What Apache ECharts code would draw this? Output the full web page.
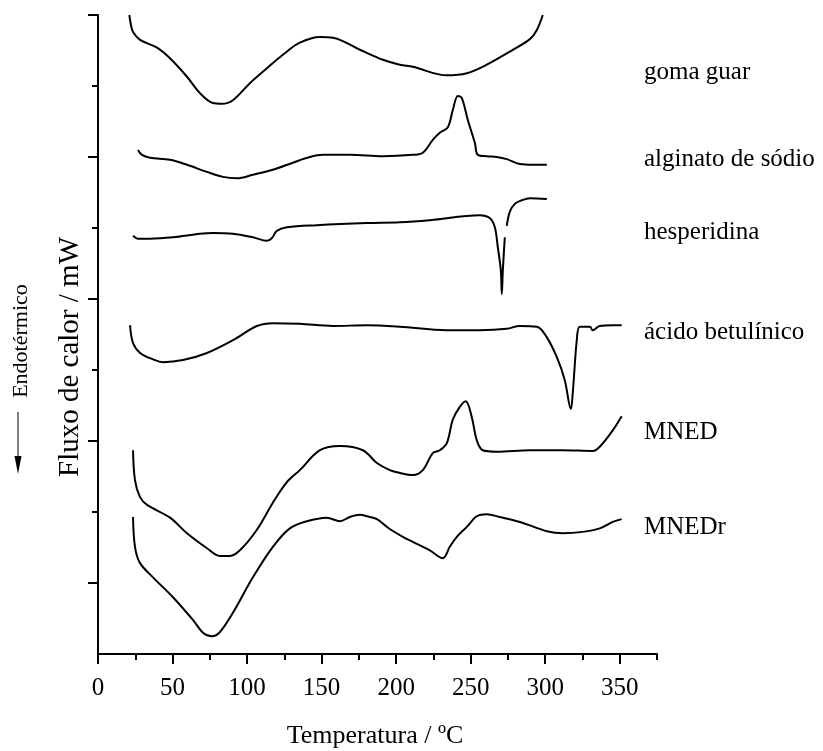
<!DOCTYPE html>
<html><head><meta charset="utf-8">
<script src="https://cdn.jsdelivr.net/npm/echarts@6/dist/echarts.min.js"></script>
<style>html,body{margin:0;padding:0;background:#fff}#c{width:823px;height:751px}</style>
</head><body><div id="c"></div>
<script>
// Temperature (°C) vs. heat flow (arbitrary offset units)
const gomaGuar = [[21,9.0],[22.1,8.86],[23.5,8.76],[28.2,8.65],[39.6,8.54],[48.3,8.39],[59.7,8.13],[68.4,7.90],[77.1,7.76],[83.1,7.75],[90.5,7.80],[101.9,8.04],[113.3,8.25],[124.0,8.44],[135.4,8.61],[148.9,8.69],[157.6,8.68],[175.7,8.51],[191.1,8.37],[202.5,8.30],[211.2,8.27],[234.0,8.15],[247.4,8.18],[260.8,8.30],[278.3,8.51],[289.7,8.66],[294.4,8.79],[298.4,9.0]];
const alginato = [[26.8,7.10],[29.5,7.03],[34.9,6.99],[48.3,6.96],[59.7,6.89],[73.1,6.79],[83.8,6.72],[93.2,6.70],[103.9,6.75],[117.3,6.82],[130.7,6.92],[142.1,7.00],[150.9,7.03],[169.0,7.03],[191.1,7.01],[211.2,7.03],[217.9,7.06],[224.6,7.24],[229.3,7.34],[234.7,7.42],[238.0,7.66],[241.4,7.86],[244.1,7.83],[248.1,7.52],[252.8,7.20],[254.8,7.03],[260.8,7.01],[267.5,7.00],[274.2,6.97],[283.0,6.90],[291.7,6.89],[301.1,6.89]];
const hesperidina = [[23.5,5.89],[26.8,5.85],[34.9,5.85],[50.3,5.87],[68.4,5.92],[77.1,5.93],[90.5,5.92],[103.9,5.87],[113.3,5.82],[116.7,5.86],[120.0,5.96],[126.7,6.01],[146.8,6.04],[180.4,6.07],[202.5,6.08],[222.6,6.11],[256.1,6.18],[262.8,6.14],[266.2,6.01],[268.2,5.73],[270.2,5.41],[270.9,5.07],[271.6,5.41],[272.9,5.87],[273.5,null],[274.2,6.03],[276.3,6.23],[279.6,6.34],[284.3,6.39],[289.7,6.42],[301.1,6.41]];
const betulinico = [[21.5,4.63],[23.5,4.38],[28.2,4.24],[36.9,4.15],[43.6,4.11],[57.0,4.14],[73.1,4.24],[90.5,4.42],[106.6,4.62],[117.3,4.66],[135.4,4.65],[157.6,4.62],[180.4,4.63],[202.5,4.61],[234.0,4.56],[256.1,4.56],[274.2,4.58],[283.0,4.62],[294.4,4.61],[301.1,4.46],[307.8,4.18],[313.1,3.86],[317.2,3.45],[318.5,3.68],[321.2,4.42],[323.2,4.61],[329.9,4.61],[331.9,4.56],[336.6,4.62],[345.3,4.63],[351.3,4.63]];
const mned = [[23.5,2.87],[24.8,2.45],[28.2,2.21],[32.9,2.10],[48.3,1.92],[59.7,1.70],[73.1,1.49],[81.8,1.38],[88.5,1.38],[95.2,1.46],[106.6,1.75],[117.3,2.13],[126.7,2.42],[135.4,2.59],[148.9,2.87],[162.3,2.93],[177.7,2.87],[187.1,2.69],[195.8,2.59],[202.5,2.55],[211.2,2.52],[217.9,2.59],[224.6,2.83],[229.3,2.87],[234.0,2.97],[238.0,3.30],[242.7,3.48],[246.7,3.56],[250.7,3.34],[254.1,3.01],[258.1,2.87],[267.5,2.85],[289.7,2.87],[311.8,2.87],[331.9,2.86],[336.6,2.92],[345.3,3.15],[351.3,3.35]];
const mnedr = [[23.5,1.93],[24.8,1.51],[28.2,1.28],[36.9,1.08],[50.3,0.80],[63.7,0.48],[70.4,0.30],[76.4,0.25],[81.8,0.31],[90.5,0.58],[103.9,1.08],[117.3,1.51],[128.7,1.77],[140.1,1.87],[153.5,1.92],[162.3,1.87],[169.0,1.93],[175.7,1.96],[180.4,1.94],[187.1,1.90],[195.8,1.76],[204.5,1.65],[211.2,1.58],[222.6,1.46],[231.3,1.35],[236.0,1.51],[240.7,1.65],[247.4,1.79],[254.1,1.94],[260.8,1.97],[269.5,1.93],[283.0,1.86],[301.1,1.73],[311.8,1.70],[325.2,1.72],[336.6,1.77],[345.3,1.86],[351.3,1.90]];

const seriesNames = ['goma guar','alginato de sódio','hesperidina','ácido betulínico','MNED','MNEDr'];
const seriesData = [gomaGuar, alginato, hesperidina, betulinico, mned, mnedr];
const xMajorTicks = [0,50,100,150,200,250,300,350];
const xMinorTicks = [25,75,125,175,225,275,325,375];
const yMajorTicks = [1,3,5,7,9];
const yMinorTicks = [2,4,6,8];
const xTitle = 'Temperatura / ºC';
const yTitle = 'Fluxo de calor / mW';
const endoLabel = 'Endotérmico';

const FONT = 'Liberation Serif';
const chart = echarts.init(document.getElementById('c'), null, {renderer:'canvas'});
const labelY = [72, 159, 232, 332, 432, 527];

const lineStyleAxis = {color:'#000', width:2};
const option = {
  backgroundColor:'#fff',
  animation:false,
  grid:{left:98, right:166, top:15, bottom:97},
  xAxis:[
    {type:'value', position:'bottom', min:0, max:375, interval:25,
     axisLine:{show:true, onZero:false, lineStyle:lineStyleAxis},
     axisTick:{show:true, inside:false, length:10, lineStyle:lineStyleAxis, customValues:xMajorTicks},
     axisLabel:{show:true, customValues:xMajorTicks, color:'#000', fontFamily:FONT, fontSize:25, margin:22},
     splitLine:{show:false}},
    {type:'value', position:'bottom', min:0, max:375, interval:25,
     axisLine:{show:false},
     axisTick:{show:true, length:6, lineStyle:lineStyleAxis, customValues:xMinorTicks},
     axisLabel:{show:false}, splitLine:{show:false}}
  ],
  yAxis:[
    {type:'value', position:'left', min:0, max:9, interval:1,
     axisLine:{show:true, onZero:false, lineStyle:lineStyleAxis},
     axisTick:{show:true, length:10, lineStyle:lineStyleAxis, customValues:yMajorTicks},
     axisLabel:{show:false}, splitLine:{show:false}},
    {type:'value', position:'left', min:0, max:9, interval:1,
     axisLine:{show:false},
     axisTick:{show:true, length:6, lineStyle:lineStyleAxis, customValues:yMinorTicks},
     axisLabel:{show:false}, splitLine:{show:false}}
  ],
  series: seriesData.map((d,i)=>({
    name: seriesNames[i], type:'line', data:d, xAxisIndex:0, yAxisIndex:0,
    showSymbol:false, symbol:'none', smooth:0.35, connectNulls:false,
    clip:false,
    lineStyle:{color:'#000', width:2}
  })),
  graphic:[
    ...seriesNames.map((n,i)=>({type:'text', x:644, y:labelY[i],
      style:{text:n, font:'25px "'+FONT+'"', fill:'#000', verticalAlign:'middle'}})),
    {type:'text', x:375, y:736, style:{text:xTitle, font:'26px "'+FONT+'"', fill:'#000', align:'center', verticalAlign:'middle'}},
    {type:'text', x:70, y:357, rotation:Math.PI/2, style:{text:yTitle, font:'29px "'+FONT+'"', fill:'#000', align:'center', verticalAlign:'middle'}},
    {type:'text', x:21, y:341, rotation:Math.PI/2, style:{text:endoLabel, font:'22px "'+FONT+'"', fill:'#000', align:'center', verticalAlign:'middle'}},
    {type:'line', shape:{x1:18, y1:412, x2:18, y2:466}, style:{stroke:'#000', lineWidth:1}},
    {type:'polygon', shape:{points:[[14.5,456],[21.5,456],[18,474]]}, style:{fill:'#000'}}
  ]
};
chart.setOption(option);
</script></body></html>
